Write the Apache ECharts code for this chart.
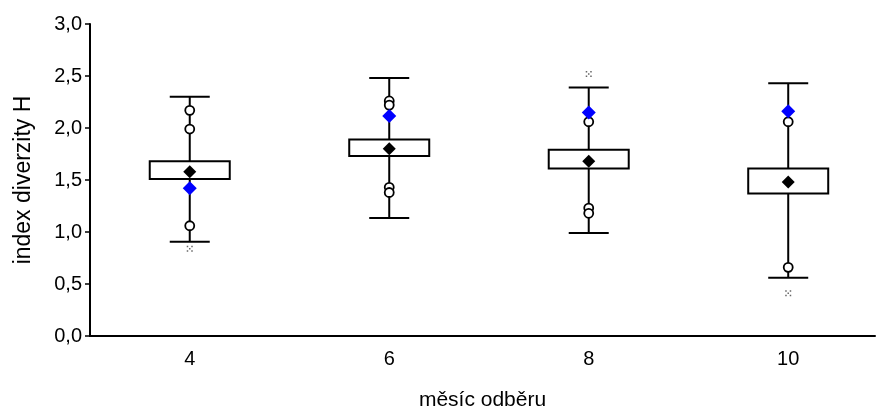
<!DOCTYPE html>
<html><head><meta charset="utf-8">
<script src="https://cdn.jsdelivr.net/npm/echarts@6/dist/echarts.min.js"></script>
<style>html,body{margin:0;padding:0;background:#fff}#c{width:876px;height:409px}</style>
</head><body><div id="c"></div>
<script>
// months (x positions)
const months = [4, 6, 8, 10];
// box stats per month: lower whisker, Q1, Q3, upper whisker
const whiskerLow = [0.907, 1.135, 0.99, 0.56];
const q1 = [1.51, 1.73, 1.61, 1.37];
const q3 = [1.68, 1.89, 1.79, 1.61];
const whiskerHigh = [2.30, 2.48, 2.39, 2.43];
// mean (black diamond)
const meanVals = [1.58, 1.80, 1.68, 1.48];
// blue diamond
const blueVals = [1.42, 2.115, 2.15, 2.16];
// outliers (open circles): [month, value]
const outliers = [
  [4, 2.17], [4, 1.99], [4, 1.06],
  [6, 2.26], [6, 2.22], [6, 1.43], [6, 1.38],
  [8, 2.06], [8, 1.23], [8, 1.18],
  [10, 2.06], [10, 0.66]
];
// extremes (small crosses): [month, value]
const extremes = [[4, 0.84], [8, 2.52], [10, 0.41]];
const yTicks = [0, 0.5, 1.0, 1.5, 2.0, 2.5, 3.0];

const boxData = months.map((m, i) => [m, whiskerLow[i], q1[i], q3[i], whiskerHigh[i]]);
const font = 'Liberation Sans, Arial, sans-serif';
const chart = echarts.init(document.getElementById('c'));
chart.setOption({
  animation: false,
  grid: {left: 90, right: 1, top: 24, bottom: 73, outerBoundsMode: 'none', containLabel: false},
  xAxis: {
    type: 'value', min: 3, max: 10.87,
    name: 'měsíc odběru', nameLocation: 'middle', nameGap: 54,
    nameTextStyle: {fontFamily: font, fontSize: 21, color: '#000'},
    axisLine: {lineStyle: {color: '#000', width: 2}},
    axisTick: {show: false},
    splitLine: {show: false},
    axisLabel: {customValues: months, fontFamily: font, fontSize: 20, color: '#000', margin: 13}
  },
  yAxis: {
    type: 'value', min: 0, max: 3, interval: 0.5,
    name: 'index diverzity H', nameLocation: 'middle', nameGap: 55,
    nameTextStyle: {fontFamily: font, fontSize: 23, color: '#000'},
    axisLine: {show: true, lineStyle: {color: '#000', width: 2}},
    axisTick: {show: true, length: 5, lineStyle: {color: '#000', width: 1.5}},
    splitLine: {show: false},
    axisLabel: {customValues: yTicks, fontFamily: font, fontSize: 20, color: '#000', margin: 8,
      formatter: v => v.toFixed(1).replace('.', ',')}
  },
  series: [
    {
      type: 'custom', data: boxData, z: 2,
      renderItem: function (params, api) {
        const x = api.value(0);
        const lo = api.coord([x, api.value(1)]);
        const b1 = api.coord([x, api.value(2)]);
        const b3 = api.coord([x, api.value(3)]);
        const hi = api.coord([x, api.value(4)]);
        const cx = lo[0], hw = 40, cw = 20;
        const ls = {stroke: '#000', lineWidth: 2};
        return {type: 'group', children: [
          {type: 'line', shape: {x1: cx, y1: hi[1], x2: cx, y2: b3[1]}, style: ls},
          {type: 'line', shape: {x1: cx, y1: b1[1], x2: cx, y2: lo[1]}, style: ls},
          {type: 'line', shape: {x1: cx - cw, y1: hi[1], x2: cx + cw, y2: hi[1]}, style: ls},
          {type: 'line', shape: {x1: cx - cw, y1: lo[1], x2: cx + cw, y2: lo[1]}, style: ls},
          {type: 'rect', shape: {x: cx - hw, y: b3[1], width: 2 * hw, height: b1[1] - b3[1]},
            style: {fill: '#fff', stroke: '#000', lineWidth: 2}}
        ]};
      }
    },
    {
      type: 'scatter', data: outliers, z: 3, symbol: 'circle', symbolSize: 9,
      itemStyle: {color: '#fff', borderColor: '#000', borderWidth: 1.8, opacity: 1}
    },
    {
      type: 'scatter', data: extremes, z: 3,
      symbol: 'path://M0,0h1v1h-1z M3,0h1v1h-1z M1.5,1.5h1v1h-1z M0,3h1v1h-1z M3,3h1v1h-1z',
      symbolSize: 6, itemStyle: {color: '#666', opacity: 1}
    },
    {
      type: 'scatter', data: months.map((m, i) => [m, blueVals[i]]), z: 4,
      symbol: 'diamond', symbolSize: 14, itemStyle: {color: '#0000ff', opacity: 1}
    },
    {
      type: 'scatter', data: months.map((m, i) => [m, meanVals[i]]), z: 5,
      symbol: 'diamond', symbolSize: 13, itemStyle: {color: '#000', opacity: 1}
    }
  ]
});
</script></body></html>
